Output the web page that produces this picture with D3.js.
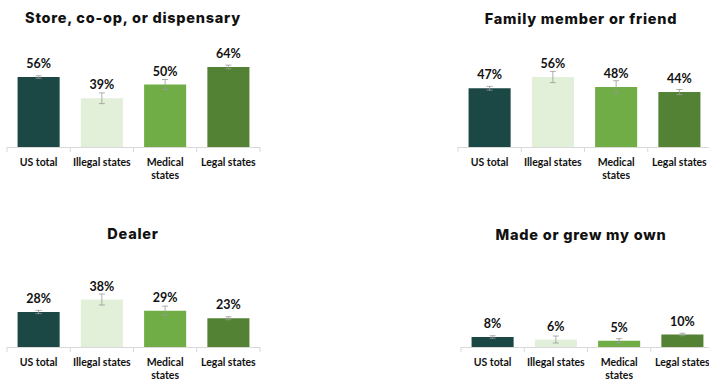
<!DOCTYPE html>
<html>
<head>
<meta charset="utf-8">
<script src="https://d3js.org/d3.v7.min.js"></script>
<style>
  body { margin: 0; background: #fff; }
  svg { display: block; }
  .title { font-family: Inter, "Open Sans", sans-serif; font-weight: 800; font-size: 14.5px; letter-spacing: 0.75px; fill: #111; }
  .val { font-family: Lato, "Open Sans", sans-serif; font-weight: 700; font-size: 12.5px; fill: #111; }
  .cat { font-family: Lato, "Open Sans", sans-serif; font-weight: 700; font-size: 10.5px; fill: #111; }
</style>
</head>
<body>
<svg id="chart" width="709" height="381"></svg>
<script>
  // categories shared by all four panels
  var categories = ["US total", "Illegal states", "Medical states", "Legal states"];
  var catLines = [["US total"], ["Illegal states"], ["Medical", "states"], ["Legal states"]];
  var colors = ["#1b4845", "#e2efd9", "#70ad47", "#548235"];

  // panel titles
  var titles = ["Store, co-op, or dispensary", "Family member or friend", "Dealer", "Made or grew my own"];

  // percentages per panel
  var storeValues = [56, 39, 50, 64];
  var familyValues = [47, 56, 48, 44];
  var dealerValues = [28, 38, 29, 23];
  var ownValues = [8, 6, 5, 10];

  // error bar half widths (percentage points)
  var storeErr = [1, 4.3, 4, 1.5];
  var familyErr = [1.5, 4.5, 5, 2];
  var dealerErr = [1.3, 4.4, 3.7, 1.2];
  var ownErr = [1, 2.8, 1.7, 1];

  var panels = [
    {title: titles[0], values: storeValues, err: storeErr, x0: 7, base: 147, titleY: 23},
    {title: titles[1], values: familyValues, err: familyErr, x0: 458, base: 147, titleY: 24},
    {title: titles[2], values: dealerValues, err: dealerErr, x0: 7, base: 347, titleY: 239},
    {title: titles[3], values: ownValues, err: ownErr, x0: 461, base: 347, titleY: 240}
  ];

  var svg = d3.select("#chart");
  var bandW = 253;

  panels.forEach(function(p, i) {
    var x = d3.scaleBand().domain(categories).range([p.x0, p.x0 + bandW]).paddingInner(0.335).paddingOuter(0.167);
    var y = d3.scaleLinear().domain([0, 100]).range([p.base, p.base - 125]);

    var g = svg.append("g");

    // title
    g.append("text")
      .attr("class", "title")
      .attr("x", (i % 2 == 0) ? 133 : 581)
      .attr("y", p.titleY)
      .attr("text-anchor", "middle")
      .text(p.title);

    // bars
    g.selectAll("rect").data(p.values).enter()
      .append("rect")
        .attr("x", function(d, j) { return x(categories[j]); })
        .attr("y", function(d) { return y(d); })
        .attr("width", x.bandwidth())
        .attr("height", function(d) { return y(0) - y(d); })
        .attr("fill", function(d, j) { return colors[j]; });

    // axis line with tick marks at band edges
    g.append("line")
      .attr("x1", p.x0).attr("x2", p.x0 + bandW)
      .attr("y1", p.base + 0.5).attr("y2", p.base + 0.5)
      .attr("stroke", "#d9d9d9").attr("stroke-width", 1);
    var edges = d3.range(5).map(function(k) { return p.x0 + k * bandW / 4; });
    g.selectAll(".tk").data(edges).enter()
      .append("line")
        .attr("x1", function(d) { return d; }).attr("x2", function(d) { return d; })
        .attr("y1", p.base).attr("y2", p.base + 5)
        .attr("stroke", "#d9d9d9").attr("stroke-width", 1);

    // error bars
    p.values.forEach(function(v, j) {
      var cx = x(categories[j]) + x.bandwidth() / 2;
      var e = p.err[j];
      var eg = g.append("g").attr("stroke", "#999").attr("stroke-width", 0.8);
      eg.append("line").attr("x1", cx).attr("x2", cx).attr("y1", y(v + e)).attr("y2", y(v - e));
      eg.append("line").attr("x1", cx - 3).attr("x2", cx + 3).attr("y1", y(v + e)).attr("y2", y(v + e));
      eg.append("line").attr("x1", cx - 3).attr("x2", cx + 3).attr("y1", y(v - e)).attr("y2", y(v - e));

      // value label
      g.append("text")
        .attr("class", "val")
        .attr("x", cx)
        .attr("y", y(v) - 9)
        .attr("text-anchor", "middle")
        .text(v + "%");

      // category label
      var t = g.append("text")
        .attr("class", "cat")
        .attr("x", cx)
        .attr("y", p.base + 19)
        .attr("text-anchor", "middle");
      catLines[j].forEach(function(line, k) {
        t.append("tspan").attr("x", cx).attr("dy", k == 0 ? 0 : 12.7).text(line);
      });
    });
  });
</script>
</body>
</html>
